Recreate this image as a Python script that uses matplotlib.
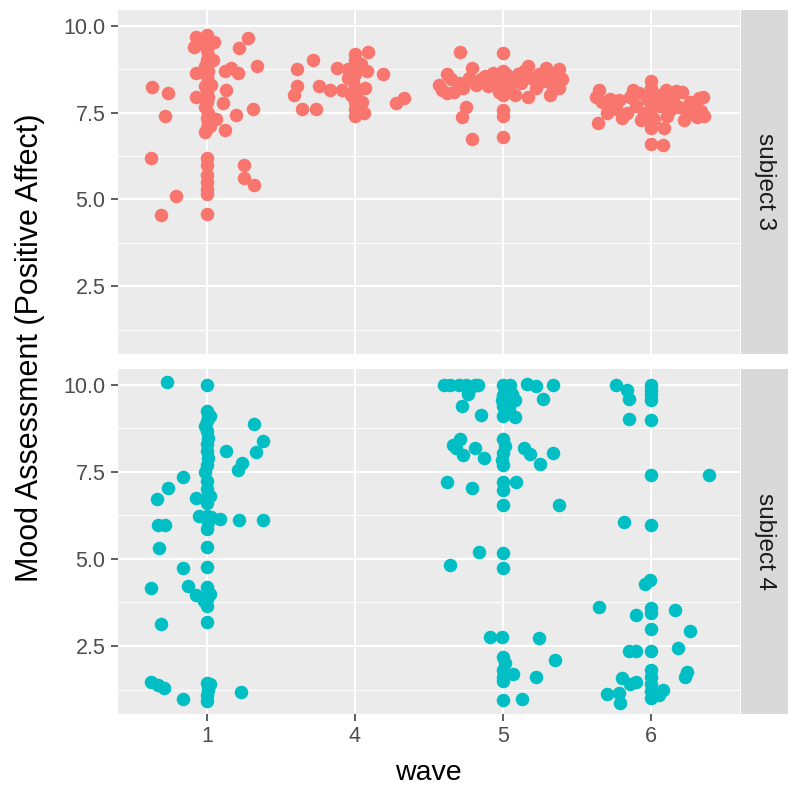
"""
plot.py

jittered mood scores by wave, one facet row per subject
"""
import matplotlib
matplotlib.use("Agg")
import matplotlib.pyplot as plt
from matplotlib.ticker import FixedLocator

plt.rcParams['font.family'] = ['Liberation Sans', 'DejaVu Sans']

# categories --------------------------------------------------------------
waves = ['1', '4', '5', '6']
subjects = ['subject 3', 'subject 4']
y_ticks = [2.5, 5.0, 7.5, 10.0]
y_tick_labels = ['2.5', '5.0', '7.5', '10.0']

# subject 3 (offset = horizontal jitter, mood = score) --------------------
s3_wave1_offset = [-0.37, -0.26, -0.28, -0.38, -0.21, -0.31, -0.07, -0.09,
                   0.05, 0.28, 0.22, 0.34, -0.07, -0.07, 0.16, 0.21, 0.12,
                   0.13, 0.11, 0.31, 0.20, 0.12, 0.25, 0.25, 0.32, 0.04,
                   0.03, -0.03, 0.06, 0.02,
                   0, 0.01, -0.01, 0, 0.01, 0, -0.01, 0.01, 0, 0.01, -0.01,
                   0, 0.01, 0, -0.01, 0.01, 0, 0.01, 0, -0.01, 0, 0, 0, 0,
                   0, 0, 0]
s3_wave1_mood = [8.24, 8.06, 7.40, 6.18, 5.11, 4.55, 9.67, 9.38,
                 9.53, 9.64, 9.35, 8.84, 8.65, 7.96, 8.79, 8.65, 8.69,
                 8.16, 7.77, 7.60, 7.43, 7.01, 5.99, 5.62, 5.40, 9.0,
                 8.3, 9.6, 7.3, 7.1,
                 9.72, 9.6, 9.45, 9.3, 9.15, 9.0, 8.85, 8.7, 8.55, 8.4, 8.25,
                 8.1, 7.95, 7.8, 7.65, 7.5, 7.35, 7.2, 7.05, 6.95, 6.2, 6.0,
                 5.7, 5.5, 5.3, 5.15, 4.58]

s3_wave4_offset = [-0.39, -0.28, -0.39, -0.41, -0.36, -0.26, -0.24, -0.17,
                   -0.12, -0.09, 0.09, 0.08, 0.19, 0.07, 0.06, 0.28, 0.33,
                   -0.05, 0.04, 0.05, -0.03, -0.05,
                   0, 0, 0.01, 0, -0.01, 0, 0.01, 0, 0, 0]
s3_wave4_mood = [8.74, 9.01, 8.25, 8.01, 7.59, 7.59, 8.25, 8.16,
                 8.79, 8.16, 9.23, 8.69, 8.60, 8.21, 7.48, 7.77, 7.92,
                 8.5, 8.9, 7.8, 8.0, 8.75,
                 9.18, 9.0, 8.8, 8.6, 8.4, 8.2, 8.0, 7.8, 7.6, 7.4]

s3_wave5_offset = [-0.29, 0, -0.21, -0.38, -0.41, -0.43, -0.35, -0.33,
                   -0.30, -0.27, -0.23, -0.18, -0.15, -0.12, -0.10, -0.07,
                   -0.05, -0.03, 0, 0, 0, 0, 0.02, 0.04, 0.07, 0.10, 0.12,
                   0.14, 0.17, 0.17, 0.19, 0.22, 0.24, 0.27, 0.29, 0.31,
                   0.33, 0.32, 0.36, 0.38, 0.40, 0.38, -0.25, -0.28, 0, 0,
                   -0.21, 0, 0.08, -0.38]
s3_wave5_mood = [9.23, 9.20, 8.79, 8.6, 8.16, 8.3, 8.45, 8.1,
                 8.35, 8.2, 8.5, 8.3, 8.45, 8.55, 8.25, 8.65,
                 8.4, 8.1, 8.7, 8.5, 8.3, 8.0, 8.6, 8.2, 8.45, 8.6, 8.35,
                 8.7, 8.84, 7.96, 8.5, 8.2, 8.6, 8.4, 8.79, 8.55,
                 8.3, 8.01, 8.6, 8.74, 8.45, 8.2, 7.67, 7.38, 7.57, 7.40,
                 6.75, 6.79, 8.0, 8.05]

s3_wave6_offset = [-0.35, -0.37, -0.36, -0.26, -0.20, -0.12, 0, -0.07, 0, 0,
                   0.08, 0.09, 0.17, 0.32, 0.31, 0.22, 0.13, -0.33, -0.30,
                   -0.28, -0.24, -0.22, -0.16, -0.14, -0.10, -0.08, -0.05,
                   -0.03, 0, 0, 0, 0.02, 0.04, 0.06, 0.08, 0.10, 0.11, 0.15,
                   0.19, 0.21, 0.24, 0.26, 0.28, 0.30, 0.34, 0.35, 0.36]
s3_wave6_mood = [8.16, 7.96, 7.20, 7.67, 7.33, 8.16, 8.40, 7.28, 7.04, 6.60,
                 6.57, 7.04, 8.11, 7.92, 7.38, 7.28, 7.57, 7.8, 7.5,
                 7.9, 7.6, 7.85, 7.5, 7.95, 7.7, 8.05, 7.5,
                 7.9, 8.2, 7.8, 7.6, 7.3, 8.0, 7.7, 7.9, 8.15, 7.4, 7.85,
                 7.65, 8.1, 7.5, 7.8, 7.6, 7.75, 7.55, 7.95, 7.4]

# subject 4 ---------------------------------------------------------------
s4_wave1_offset = [-0.27, 0, 0.32, 0.38, 0.33, 0.13, 0.24, 0.21, -0.16, -0.26,
                   -0.34, -0.07, -0.05, 0.09, 0.22, 0.38, -0.33, -0.28, -0.32,
                   -0.16, -0.38, -0.13, -0.07, -0.31, -0.38, -0.33, -0.29,
                   -0.16, 0.23, 0.02, 0.03, 0.02, 0.02, -0.02, 0.02,
                   0, 0.01, 0, -0.01, 0, 0.01, 0, 0, 0.01, 0, -0.01, 0, 0,
                   0.01, 0, 0, 0.01, 0, 0, 0, 0, 0.01, 0, 0, 0, 0, 0.01, 0, 0]
s4_wave1_mood = [10.08, 10.0, 8.86, 8.38, 8.06, 8.11, 7.74, 7.54, 7.35, 7.04,
                 6.71, 6.74, 6.24, 6.14, 6.11, 6.13, 5.97, 5.97, 5.30,
                 4.75, 4.18, 4.23, 3.97, 3.14, 1.48, 1.38, 1.30,
                 0.97, 1.19, 9.1, 6.2, 6.8, 4.0, 3.8, 1.4,
                 9.25, 9.1, 8.95, 8.8, 8.66, 8.48, 8.3, 8.1, 7.9, 7.7, 7.5,
                 7.25, 7.02, 6.8, 6.6, 6.23, 6.05, 5.85, 5.35, 4.77, 4.19,
                 4.0, 3.85, 3.66, 3.19, 1.43, 1.25, 1.1, 0.91]

s4_wave4_offset = []
s4_wave4_mood = []

s4_wave5_offset = [-0.40, -0.36, -0.30, -0.25, -0.19, -0.17, -0.24, -0.28,
                   -0.15, 0.06, 0.08, 0.08, 0.16, 0.22, 0.34, 0.27, -0.29,
                   -0.34, -0.32, -0.27, -0.19, -0.13, 0.14, 0.18, 0.25, 0.34,
                   -0.38, -0.21, 0.09, 0.38, -0.16, -0.36, -0.09, -0.01, 0.24,
                   0.35, 0.07, 0.22, 0.13, -0.22, 0.05, 0.04,
                   0, 0.01, 0, -0.01, 0, 0.01, 0, 0, 0.01, 0, -0.01, 0, 0, 0,
                   0, 0, 0, 0, 0.01, 0, 0, 0, 0]
s4_wave5_mood = [10.0, 10.0, 10.0, 10.0, 10.0, 10.0, 9.74, 9.38,
                 9.13, 9.74, 9.55, 9.08, 10.02, 9.96, 9.99, 9.59, 8.45,
                 8.27, 8.17, 7.98, 8.18, 7.89, 8.18, 8.0, 7.71, 8.03,
                 7.21, 7.04, 7.22, 6.56, 5.21, 4.82, 2.77, 2.77, 2.74,
                 2.11, 1.70, 1.62, 0.98, 9.9, 10.0, 9.3,
                 10.0, 9.85, 9.7, 9.55, 9.4, 9.25, 9.1, 8.45, 8.25, 8.05, 7.85,
                 7.7, 7.22, 6.98, 6.56, 5.16, 4.75, 2.2, 2.0, 1.8, 1.6, 1.5,
                 0.96]

s4_wave6_offset = [-0.24, -0.16, -0.15, -0.15, 0.39, -0.18, -0.01, -0.04,
                   -0.35, -0.10, 0.16, 0.26, -0.15, -0.10, 0.18, 0.24, 0.23,
                   -0.20, -0.14, -0.10, -0.30, -0.22, -0.21, 0.08, 0.05,
                   0, 0, 0, 0, 0, 0, 0, 0, 0, 0, 0, 0, 0, 0, 0, 0]
s4_wave6_mood = [10.0, 9.85, 9.60, 9.01, 7.40, 6.05, 4.4, 4.28,
                 3.61, 3.40, 3.53, 2.94, 2.36, 2.36, 2.43, 1.75, 1.60,
                 1.57, 1.40, 1.47, 1.13, 1.16, 0.87, 1.23, 1.1,
                 10.0, 9.85, 9.7, 9.55, 8.98, 7.40, 5.98, 3.6, 3.45, 2.99,
                 2.36, 1.8, 1.6, 1.4, 1.2, 1.0]

s3_offsets = [s3_wave1_offset, s3_wave4_offset, s3_wave5_offset, s3_wave6_offset]
s3_moods = [s3_wave1_mood, s3_wave4_mood, s3_wave5_mood, s3_wave6_mood]
s4_offsets = [s4_wave1_offset, s4_wave4_offset, s4_wave5_offset, s4_wave6_offset]
s4_moods = [s4_wave1_mood, s4_wave4_mood, s4_wave5_mood, s4_wave6_mood]

colors = ['#F8766D', '#00BFC4']
W, H = 800, 796


def px_box(left, top, right, bottom):
    """pixel box -> figure fraction rect"""
    return [left / W, 1 - bottom / H, (right - left) / W, (bottom - top) / H]


def setup_panel(fig, rect, show_x):
    ax = fig.add_axes(rect)
    ax.set_facecolor('#EBEBEB')
    for s in ax.spines.values():
        s.set_visible(False)
    ax.set_xlim(0.4, 4.6)
    ax.set_ylim(0.55, 10.45)
    ax.set_xticks(range(1, len(waves) + 1))
    ax.set_yticks(y_ticks)
    ax.set_yticklabels(y_tick_labels)
    ax.yaxis.set_minor_locator(FixedLocator([1.25, 3.75, 6.25, 8.75]))
    ax.grid(which='major', color='white', linewidth=1.5, zorder=0)
    ax.grid(which='minor', axis='y', color='white', linewidth=0.75, zorder=0)
    ax.set_axisbelow(True)
    ax.tick_params(which='major', length=5, width=1.1, color='#333333',
                   labelcolor='#4D4D4D', labelsize=15.5, pad=4)
    ax.tick_params(which='minor', length=0)
    if show_x:
        ax.set_xticklabels(waves)
    else:
        ax.tick_params(axis='x', length=0, labelbottom=False)
    return ax


def add_strip(fig, rect, label):
    sx = fig.add_axes(rect)
    sx.set_facecolor('#D9D9D9')
    for s in sx.spines.values():
        s.set_visible(False)
    sx.set_xticks([])
    sx.set_yticks([])
    sx.text(0.5, 0.5, label, rotation=-90, ha='center', va='center',
            color='#1A1A1A', fontsize=17.5, transform=sx.transAxes)


fig = plt.figure(figsize=(W / 100, H / 100), dpi=100)

panels = [(10, 354), (369, 714)]
data = [(s3_offsets, s3_moods), (s4_offsets, s4_moods)]
for i, ((top, bottom), (offs, moods)) in enumerate(zip(panels, data)):
    ax = setup_panel(fig, px_box(118, top, 740, bottom), show_x=(i == 1))
    for j in range(len(waves)):
        x = [j + 1 + o for o in offs[j]]
        ax.scatter(x, moods[j], s=95, color=colors[i], linewidths=0,
                   zorder=3, clip_on=False)
    add_strip(fig, px_box(741, top, 788, bottom), subjects[i])

fig.text(0.038, 1 - 348 / H, 'Mood Assessment (Positive Affect)',
         rotation=90, ha='center', va='center', fontsize=22, color='black')
fig.text(428 / W, 1 - 773 / H, 'wave', ha='center', va='center',
         fontsize=20.5, color='black')

fig.savefig('out.png', dpi=100)
